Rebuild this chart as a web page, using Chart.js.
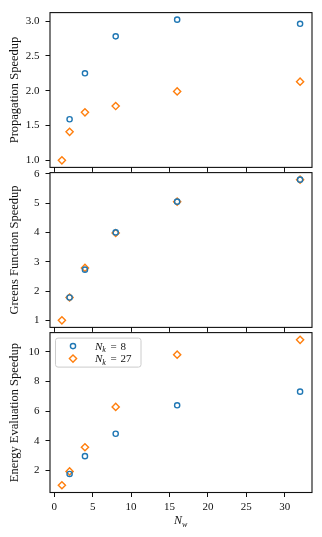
<!DOCTYPE html>
<html><head><meta charset="utf-8">
<script src="https://cdn.jsdelivr.net/npm/chart.js@4/dist/chart.umd.min.js"></script>
<style>
html,body{margin:0;padding:0;background:#fff;width:322px;height:537px;overflow:hidden}
canvas{position:absolute;left:0}
</style></head><body>
<canvas id="c1" width="322" height="180" style="top:0px;width:322px;height:180px"></canvas>
<canvas id="c2" width="322" height="180" style="top:160px;width:322px;height:180px"></canvas>
<canvas id="c3" width="322" height="217" style="top:320px;width:322px;height:217px"></canvas>
<script>
// ---- data ----
const nw = [1, 2, 4, 8, 16, 32];
const seriesLabels = ['N_k = 8', 'N_k = 27'];
// the N_k = 8 marker at N_w = 1 is not visible in the reference (hidden under the N_k = 27 one)
const propNk8 = [null, 1.59, 2.25, 2.78, 3.02, 2.96];
const propNk27 = [1.0, 1.41, 1.69, 1.78, 1.99, 2.13];
const greenNk8 = [null, 1.78, 2.73, 4.0, 5.05, 5.8];
const greenNk27 = [1.0, 1.78, 2.79, 3.98, 5.05, 5.8];
const energyNk8 = [null, 1.76, 2.96, 4.47, 6.39, 7.31];
const energyNk27 = [1.0, 1.93, 3.56, 6.28, 9.8, 10.8];
const xTicks = [0, 5, 10, 15, 20, 25, 30];
const propTicks = [1.0, 1.5, 2.0, 2.5, 3.0];
const greenTicks = [1, 2, 3, 4, 5, 6];
const energyTicks = [2, 4, 6, 8, 10];
const yTitles = ['Propagation Speedup', 'Greens Function Speedup', 'Energy Evaluation Speedup'];

const C0 = '#1f77b4', C1 = '#ff7f0e';
const FONT = "'Liberation Serif', 'DejaVu Serif', serif";
const INK = '#111';

function lim(arrs, m) {
  const all = [].concat(...arrs).filter(v => v !== null);
  const lo = Math.min(...all), hi = Math.max(...all), r = hi - lo;
  return [lo - m * r, hi + m * r];
}
const xl = lim([nw], 0.05);

const frame = {
  id: 'frame',
  afterDatasetsDraw(chart) {
    const a = chart.chartArea, ctx = chart.ctx;
    ctx.save();
    ctx.strokeStyle = INK; ctx.lineWidth = 1.1;
    ctx.strokeRect(a.left, a.top, a.right - a.left, a.bottom - a.top);
    ctx.restore();
  }
};

function drawSubLabel(ctx, x, y, base, sub, rest, size) {
  ctx.textBaseline = 'alphabetic';
  ctx.textAlign = 'left';
  ctx.font = 'italic ' + size + 'px ' + FONT;
  ctx.fillText(base, x, y);
  let w = ctx.measureText(base).width;
  ctx.font = 'italic ' + Math.round(size * 0.7) + 'px ' + FONT;
  ctx.fillText(sub, x + w, y + size * 0.22);
  w += ctx.measureText(sub).width;
  if (rest) {
    ctx.font = size + 'px ' + FONT;
    const parts = rest.split(' ');
    let xx = x + w + 4.5;
    ctx.fillText(parts[0], xx, y);
    xx += ctx.measureText(parts[0]).width + 4;
    ctx.fillText(parts[1], xx, y);
  }
}

const legendPlugin = {
  id: 'legendBox',
  afterDraw(chart) {
    const a = chart.chartArea, ctx = chart.ctx;
    const x0 = a.left + 5, y0 = a.top + 5, w = 85.5, h = 29;
    ctx.save();
    ctx.beginPath();
    if (ctx.roundRect) ctx.roundRect(x0 + 0.5, y0 + 0.5, w, h, 2.5); else ctx.rect(x0 + 0.5, y0 + 0.5, w, h);
    ctx.fillStyle = 'rgba(255,255,255,0.8)';
    ctx.fill();
    ctx.strokeStyle = '#cccccc'; ctx.lineWidth = 1;
    ctx.stroke();
    const ds = chart.data.datasets;
    const rows = [y0 + 8.5, y0 + 21];
    ds.forEach((d, i) => {
      ctx.strokeStyle = d.borderColor; ctx.fillStyle = 'rgba(0,0,0,0)';
      ctx.lineWidth = d.borderWidth;
      Chart.helpers.drawPoint(ctx, {pointStyle: d.pointStyle, radius: d.pointRadius, rotation: 0, borderWidth: d.borderWidth}, a.left + 23, rows[i]);
      ctx.fillStyle = INK;
      const parts = seriesLabels[i].split(' = ');
      drawSubLabel(ctx, a.left + 45, rows[i] + 3.5, 'N', 'k', '= ' + parts[1], 11);
    });
    ctx.restore();
  }
};

const xTitlePlugin = {
  id: 'xTitle',
  afterDraw(chart) {
    const a = chart.chartArea, ctx = chart.ctx;
    ctx.save();
    ctx.fillStyle = INK;
    const cx = (a.left + a.right) / 2;
    drawSubLabel(ctx, cx - 7, a.bottom + 31.5, 'N', 'w', '', 12);
    ctx.restore();
  }
};

function makeChart(id, idx, d8, d27, yTicks, fmt, padTop, xHeight, showX, extra) {
  const yl = lim([d8, d27], 0.05);
  const pts = a => nw.map((x, i) => ({x: x, y: a[i]})).filter(p => p.y !== null);
  return new Chart(document.getElementById(id), {
    type: 'scatter',
    data: {
      datasets: [
        {label: seriesLabels[0], data: pts(d8), pointStyle: 'circle', pointRadius: 2.6,
         borderColor: C0, backgroundColor: 'rgba(0,0,0,0)', borderWidth: 1.4},
        {label: seriesLabels[1], data: pts(d27), pointStyle: 'rectRot', pointRadius: 3.6,
         borderColor: C1, backgroundColor: 'rgba(0,0,0,0)', borderWidth: 1.4}
      ]
    },
    options: {
      responsive: false, animation: false, devicePixelRatio: 1,
      layout: {padding: {top: padTop, right: 10, left: 0, bottom: 0}},
      plugins: {legend: {display: false}, tooltip: {enabled: false}},
      elements: {point: {hoverRadius: 3}},
      scales: {
        x: {
          type: 'linear', min: xl[0], max: xl[1],
          afterBuildTicks: s => { s.ticks = xTicks.map(v => ({value: v})); },
          afterFit: s => { s.height = xHeight; },
          grid: {drawOnChartArea: false, drawTicks: true, tickLength: 4.5, color: INK, tickColor: INK, tickWidth: 1},
          border: {display: false},
          ticks: {display: showX, color: INK, padding: 4, font: {family: FONT, size: 11}, maxRotation: 0,
                  callback: v => String(v)}
        },
        y: {
          type: 'linear', min: yl[0], max: yl[1],
          afterBuildTicks: s => { s.ticks = yTicks.map(v => ({value: v})); },
          afterFit: s => { s.width = 50; },
          grid: {drawOnChartArea: false, drawTicks: true, tickLength: 4.5, color: INK, tickColor: INK, tickWidth: 1},
          border: {display: false},
          ticks: {color: INK, padding: 6, font: {family: FONT, size: 11}, callback: fmt},
          title: {display: true, text: yTitles[idx], color: INK, font: {family: FONT, size: 12.5},
                  padding: {top: 7, bottom: 0}}
        }
      }
    },
    plugins: [frame].concat(extra || [])
  });
}

makeChart('c1', 0, propNk8, propNk27, propTicks, v => v.toFixed(1), 9, 9.5, false);
makeChart('c2', 1, greenNk8, greenNk27, greenTicks, v => String(v), 11, 8.5, false);
makeChart('c3', 2, energyNk8, energyNk27, energyTicks, v => String(v), 11.5, 44.5, true, [legendPlugin, xTitlePlugin]);
</script>
</body></html>
